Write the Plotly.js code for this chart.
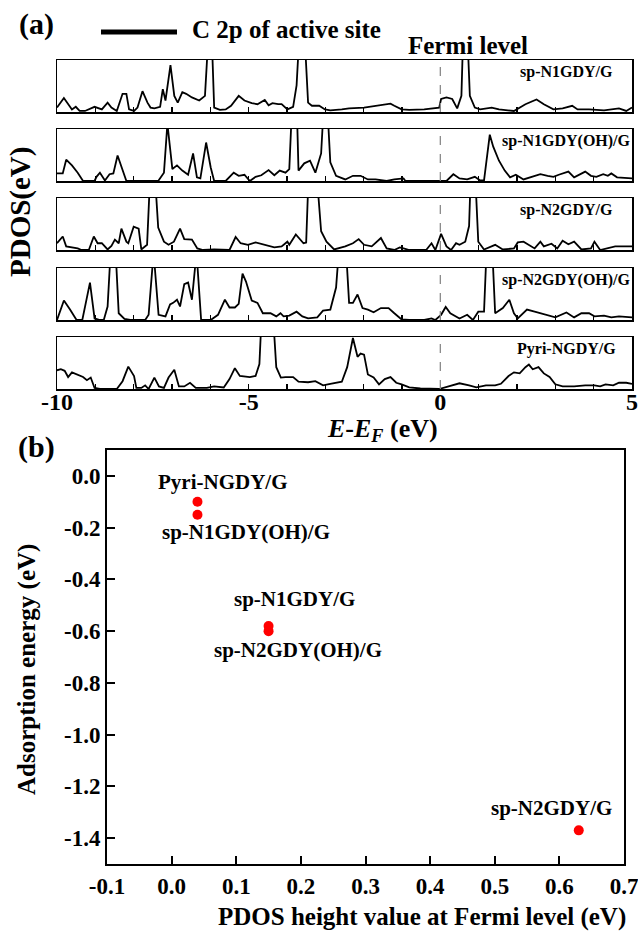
<!DOCTYPE html>
<html><head><meta charset="utf-8">
<script src="https://cdn.plot.ly/plotly-3.0.1.min.js"></script>
<style>html,body{margin:0;padding:0;background:#fff;}#chart{width:638px;height:932px;}</style>
</head><body><div id="chart"></div>
<script>
// ---------- DATA ----------
const panelNames = ['sp-N1GDY/G','sp-N1GDY(OH)/G','sp-N2GDY/G','sp-N2GDY(OH)/G','Pyri-NGDY/G'];

const e1 = [-10.00,-9.82,-9.61,-9.51,-9.41,-9.27,-9.02,-8.93,-8.83,-8.68,-8.58,-8.44,-8.29,-8.19,-8.12,-7.99,-7.90,-7.77,-7.64,-7.56,-7.46,-7.31,-7.24,-7.17,-7.04,-6.94,-6.85,-6.73,-6.63,-6.48,-6.29,-6.14,-6.04,-5.97,-5.90,-5.75,-5.60,-5.46,-5.26,-5.11,-4.92,-4.77,-4.58,-4.48,-4.38,-4.23,-4.14,-3.99,-3.84,-3.75,-3.67,-3.55,-3.45,-3.35,-3.16,-3.01,-2.87,-2.57,-2.38,-1.99,-1.60,-1.30,-1.20,-1.01,-0.81,-0.42,-0.03,0.02,0.16,0.31,0.44,0.55,0.60,0.70,0.77,0.90,1.04,1.34,1.53,1.92,2.22,2.51,2.70,2.95,3.19,3.44,3.58,3.88,4.27,4.66,4.85,5.00];
const d1 = [0.085,0.27,0.05,0.10,0.02,0.02,0.10,0.07,0.05,0.18,0.085,0.02,0.35,0.35,0.05,0.02,0.085,0.40,0.18,0.085,0.07,0.10,0.44,0.22,0.90,0.31,0.18,0.38,0.35,0.28,0.22,0.31,1.6,1.6,0.085,0.04,0.05,0.12,0.31,0.22,0.17,0.15,0.23,0.13,0.17,0.15,0.15,0.05,0.10,0.51,1.6,1.6,0.18,0.12,0.12,0.05,0.03,0.05,0.07,0.085,0.12,0.16,0.12,0.05,0.04,0.05,0.085,0.25,0.28,0.25,0.07,0.31,1.6,1.6,0.31,0.085,0.05,0.085,0.05,0.02,0.15,0.24,0.15,0.05,0.07,0.12,0.05,0.05,0.03,0.07,0.02,0.085];

const e2 = [-10.00,-9.85,-9.76,-9.61,-9.46,-9.32,-9.02,-8.97,-8.88,-8.75,-8.63,-8.53,-8.42,-8.29,-8.19,-7.95,-7.36,-7.21,-7.12,-6.99,-6.87,-6.73,-6.58,-6.45,-6.35,-6.26,-6.11,-5.99,-5.90,-5.60,-5.50,-5.39,-5.26,-5.11,-4.97,-4.82,-4.67,-4.48,-4.33,-4.19,-4.04,-3.94,-3.86,-3.75,-3.70,-3.55,-3.40,-3.26,-3.11,-3.03,-2.96,-2.87,-2.72,-2.48,-2.28,-2.08,-1.89,-1.69,-1.40,-1.20,-0.96,-0.91,-0.03,0.16,0.34,0.50,0.70,0.90,1.04,1.14,1.29,1.38,1.53,1.68,1.82,1.97,2.17,2.36,2.61,2.80,2.95,3.09,3.34,3.49,3.63,3.78,3.93,4.07,4.25,4.37,4.46,4.61,5.00];
const d2 = [0.145,0.145,0.41,0.30,0.16,0,0,0.08,0.16,0.01,0.13,0.145,0.49,0.20,0,0,0,0.16,1.1,0.23,0.30,0.20,0.12,0.53,0.07,0.05,0.74,0.26,0,0,0.08,0.16,0.10,0.12,0,0.08,0.11,0.21,0.11,0.20,0.16,0.23,1.6,1.6,0.20,0.34,0.39,0.16,0.53,1.6,1.6,0.36,0.10,0.03,0.10,0.10,0.03,0.03,0,0.03,0.05,0,0,0,0.13,0.05,0.03,0.08,0.01,0.01,0.89,0.66,0.39,0.20,0.07,0.12,0.03,0.07,0.13,0.10,0.08,0.12,0.18,0.07,0.13,0.18,0.10,0.08,0.13,0.10,0.145,0.07,0.05];

const e3 = [-10.00,-9.85,-9.76,-9.61,-9.46,-9.36,-9.17,-9.04,-8.94,-8.83,-8.68,-8.58,-8.49,-8.39,-8.32,-8.19,-8.14,-8.00,-7.87,-7.80,-7.65,-7.56,-7.46,-7.36,-7.21,-7.09,-6.95,-6.79,-6.68,-6.48,-6.34,-6.19,-5.90,-5.50,-5.34,-5.21,-5.02,-4.82,-4.63,-4.48,-4.33,-4.14,-3.99,-3.94,-3.77,-3.57,-3.50,-3.43,-3.24,-3.11,-2.97,-2.77,-2.48,-2.28,-2.13,-1.99,-1.79,-1.55,-1.40,-1.20,-1.06,-0.96,-0.81,-0.37,-0.23,-0.13,0.02,0.16,0.28,0.41,0.50,0.65,0.75,0.80,0.90,0.99,1.14,1.43,1.63,1.92,2.02,2.17,2.31,2.46,2.61,2.70,2.90,3.05,3.19,3.34,3.49,3.68,3.93,4.02,4.17,4.37,4.56,5.00];
const d3 = [0.13,0.26,0.07,0.05,0.03,0,0,0.26,0.13,0.13,0.01,0.08,0.20,0.13,0.41,0.16,0.13,0.45,0.41,0.01,0.10,1.6,1.6,0.43,0.16,0.10,0.16,0.41,0.21,0.20,0.03,0,0.01,0,0.25,0.13,0.10,0.145,0.11,0.07,0.05,0.07,0.16,0.10,0.30,0.13,0.145,1.6,1.6,0.36,0.16,0.01,0.07,0.13,0.21,0.10,0.07,0.23,0.03,0,0.05,0.03,0,0,0.13,0,0.31,0.07,0,0.13,0.10,0.16,0.46,1.6,1.6,0.16,0.01,0.10,0.01,0.03,0.145,0.16,0.10,0.03,0.16,0.07,0.12,0.03,0.18,0.11,0.16,0.01,0.03,0.16,0,0.03,0.07,0.07];

const e4 = [-10.00,-9.82,-9.66,-9.49,-9.34,-9.14,-9.02,-8.88,-8.78,-8.68,-8.58,-8.49,-8.39,-8.24,-8.09,-7.70,-7.61,-7.48,-7.35,-7.17,-7.05,-6.97,-6.87,-6.79,-6.68,-6.58,-6.48,-6.36,-6.24,-5.99,-5.80,-5.62,-5.50,-5.36,-5.26,-5.16,-5.07,-4.92,-4.77,-4.63,-4.43,-4.28,-4.17,-4.09,-3.94,-3.75,-3.60,-3.45,-3.21,-3.06,-2.87,-2.72,-2.62,-2.48,-2.38,-2.28,-2.16,-2.03,-1.89,-1.74,-1.55,-1.35,-1.20,-1.01,-0.81,-0.42,-0.23,-0.13,0.02,0.14,0.26,0.50,0.70,0.85,0.99,1.14,1.22,1.34,1.43,1.63,1.80,1.92,2.02,2.26,2.46,2.61,2.80,3.00,3.29,3.49,3.68,3.88,4.02,4.27,4.46,4.66,5.00];
const d4 = [0,0.375,0.20,0,0,0.72,0.03,0,0,0.26,1.6,1.6,0.13,0.02,0,0,0.10,1.3,0.10,0.07,0.30,0.33,0.39,0.26,0.69,0.72,0.39,1.3,0,0,0.10,0.39,0.24,0.24,0.31,0.89,0.74,0.375,0.33,0.13,0.13,0.07,0.13,0.07,0.085,0.16,0.07,0.03,0.05,0.18,0.20,0.625,1.6,1.6,0.33,0.33,0.49,0.23,0.20,0.15,0.23,0.23,0.13,0.01,0,0,0.03,0,0.10,0.25,0.13,0.03,0.10,0,0.16,0.16,1.6,1.6,0.13,0.23,0.39,0.13,0.03,0.20,0.16,0.13,0.10,0.05,0.145,0.05,0.13,0.13,0.07,0.085,0.05,0.07,0.05];

const e5 = [-10.00,-9.90,-9.80,-9.71,-9.61,-9.46,-9.32,-9.22,-9.12,-9.02,-8.88,-8.44,-8.29,-8.14,-7.99,-7.93,-7.80,-7.70,-7.61,-7.46,-7.34,-7.21,-7.09,-6.94,-6.82,-6.68,-6.53,-6.38,-6.09,-5.90,-5.65,-5.50,-5.36,-5.23,-5.11,-4.97,-4.82,-4.72,-4.65,-4.38,-4.28,-4.16,-4.04,-3.84,-3.70,-3.45,-3.26,-3.06,-2.87,-2.57,-2.43,-2.28,-2.16,-2.08,-1.99,-1.89,-1.74,-1.60,-1.45,-1.30,-1.15,-1.01,-0.81,-0.52,-0.03,0.21,0.50,0.75,0.94,1.19,1.43,1.58,1.78,1.92,2.07,2.22,2.31,2.41,2.56,2.70,2.85,3.00,3.19,3.49,3.78,4.02,4.17,4.31,4.51,4.66,4.85,5.00];
const d5 = [0.36,0.38,0.35,0.23,0.32,0.28,0.23,0.17,0.22,0.02,0,0,0.15,0.43,0.25,0.02,0.02,0.07,0,0.22,0.05,0.02,0.22,0.37,0.05,0.05,0.12,0.02,0.02,0.05,0.03,0.19,0.40,0.25,0.24,0.23,0.25,0.48,1.6,1.6,0.42,0.22,0.23,0.23,0.14,0.13,0.15,0.07,0.10,0.14,0.42,0.98,0.62,0.68,0.66,0.28,0.22,0.09,0.19,0.23,0.12,0.09,0.03,0.01,0,0.05,0.11,0.07,0.03,0.07,0.07,0.10,0.25,0.32,0.30,0.42,0.47,0.38,0.42,0.30,0.23,0.09,0.05,0.05,0.07,0.07,0.05,0.09,0.07,0.12,0.12,0.10];

const energyLabelVals = [-10,-5,0,5];
const energyLabelText = ['-10','-5','0','5'];
const energyMinorVals = [-9,-8,-7,-6,-4,-3,-2,-1,1,2,3,4];

const structNames = ['Pyri-NGDY/G','sp-N1GDY(OH)/G','sp-N1GDY/G','sp-N2GDY(OH)/G','sp-N2GDY/G'];
const pdosAtFermi = [0.04,0.04,0.15,0.15,0.63];
const adsEnergy = [-0.10,-0.15,-0.58,-0.60,-1.37];

const hTickVals = [-0.1,0.0,0.1,0.2,0.3,0.4,0.5,0.6,0.7];
const hTickText = ['-0.1','0.0','0.1','0.2','0.3','0.4','0.5','0.6','0.7'];
const aTickVals = [0.0,-0.2,-0.4,-0.6,-0.8,-1.0,-1.2,-1.4];
const aTickText = ['0.0','-0.2','-0.4','-0.6','-0.8','-1.0','-1.2','-1.4'];

// ---------- LAYOUT ----------
const W = 638, H = 932;
const FONT = 'Liberation Serif';
const BLACK = '#000';
const panelTops = [60,129,198,268,337], panelH = 52;
const pxL = 57, pxR = 632;
const energies = [e1,e2,e3,e4,e5];
const dos = [d1,d2,d3,d4,d5];
const bold = s => '<b>' + s + '</b>';
const TICKFONT = {family: FONT, size: 23, color: BLACK, weight: 700};

const data = [];
const layout = {
  width: W, height: H,
  margin: {l:0,r:0,t:0,b:0},
  paper_bgcolor: '#fff', plot_bgcolor: '#fff',
  showlegend: false,
  font: {family: FONT, color: BLACK, size: 16},
  shapes: [], annotations: []
};
const fx = p => p / W;
const fy = p => 1 - p / H;

for (let k = 0; k < 5; k++) {
  const n = k + 1;
  const xa = n === 1 ? 'x' : 'x' + n;
  const ya = n === 1 ? 'y' : 'y' + n;
  data.push({x: energies[k], y: dos[k], xaxis: xa, yaxis: ya, mode: 'lines',
    line: {color: BLACK, width: 1.8}, hoverinfo: 'skip', showlegend: false});
  layout[n === 1 ? 'xaxis' : 'xaxis' + n] = {
    domain: [fx(pxL), fx(pxR)], range: [-10, 5], anchor: ya,
    showline: true, mirror: true, linecolor: BLACK, linewidth: 1.5,
    ticks: 'inside', ticklen: 5, tickwidth: 1.5, tickcolor: BLACK,
    tickmode: 'array', tickvals: energyLabelVals, ticktext: energyLabelText.map(bold),
    minor: {tickmode: 'array', tickvals: energyMinorVals, ticks: 'inside', ticklen: 5, tickwidth: 1.5, tickcolor: BLACK, showgrid: false},
    showticklabels: k === 4, ticklabelstandoff: -9, ticklabeloverflow: 'allow',
    tickfont: Object.assign({}, TICKFONT, {size: 24}),
    showgrid: false, zeroline: false, fixedrange: true
  };
  layout[n === 1 ? 'yaxis' : 'yaxis' + n] = {
    domain: [fy(panelTops[k] + panelH), fy(panelTops[k])], range: [0, 1], anchor: xa,
    showline: true, mirror: true, linecolor: BLACK, linewidth: 1.5,
    ticks: '', showticklabels: false, showgrid: false, zeroline: false, fixedrange: true
  };
  layout.shapes.push({type: 'line', xref: xa, yref: ya + ' domain', x0: 0, x1: 0, y0: 0, y1: 1,
    line: {color: '#8a8a8a', width: 1.3, dash: 'dash'}, layer: 'above'});
  layout.annotations.push({xref: xa + ' domain', yref: ya + ' domain', x: (566 - pxL) / (pxR - pxL), y: 0.76,
    text: bold(panelNames[k]), showarrow: false, xanchor: 'center', yanchor: 'middle',
    font: {family: FONT, size: 16, color: BLACK}});
}

// scatter (b)
data.push({x: pdosAtFermi, y: adsEnergy, text: structNames, xaxis: 'x6', yaxis: 'y6', mode: 'markers',
  marker: {color: '#ff0000', size: 10}, hoverinfo: 'text', showlegend: false});
layout.xaxis6 = {
  domain: [fx(107), fx(624)], range: [-0.1, 0.7], anchor: 'y6',
  showline: true, mirror: true, linecolor: BLACK, linewidth: 2,
  ticks: 'inside', ticklen: 8, tickwidth: 2, tickcolor: BLACK,
  tickmode: 'array', tickvals: hTickVals, ticktext: hTickText.map(bold), ticklabeloverflow: 'allow',
  tickfont: TICKFONT,
  showgrid: false, zeroline: false, fixedrange: true
};
layout.yaxis6 = {
  domain: [fy(864), fy(450)], range: [-1.5, 0.1], anchor: 'x6',
  showline: true, mirror: true, linecolor: BLACK, linewidth: 2,
  ticks: 'inside', ticklen: 8, tickwidth: 2, tickcolor: BLACK,
  tickmode: 'array', tickvals: aTickVals, ticktext: aTickText.map(bold),
  tickfont: TICKFONT,
  showgrid: false, zeroline: false, fixedrange: true
};

// point labels (pixel offsets from each marker)
const labelShift = [[25, 20], [49, -17], [26, 27], [29, -19], [-27, 22]];
for (let i = 0; i < structNames.length; i++) {
  layout.annotations.push({xref: 'x6', yref: 'y6', x: pdosAtFermi[i], y: adsEnergy[i],
    xshift: labelShift[i][0], yshift: labelShift[i][1], showarrow: false,
    text: bold(structNames[i]), font: {family: FONT, size: 21, color: BLACK}});
}

// legend line sample
layout.shapes.push({type: 'line', xref: 'paper', yref: 'paper', x0: fx(101), x1: fx(177), y0: fy(32), y1: fy(32),
  line: {color: BLACK, width: 5}});

const txt = (x, y, text, size, extra) => Object.assign({xref: 'paper', yref: 'paper', x: fx(x), y: fy(y),
  text: bold(text), showarrow: false, xanchor: 'center', yanchor: 'middle',
  font: {family: FONT, size: size, color: BLACK}}, extra || {});

layout.annotations.push(
  txt(36, 24, '(a)', 30),
  txt(36, 447, '(b)', 30),
  txt(286, 29, 'C 2p of active site', 25),
  txt(468, 45, 'Fermi level', 25),
  txt(21, 212, 'PDOS(eV)', 29, {textangle: -90}),
  txt(382, 430, '<i>E</i>-<i>E</i><sub><i>F</i></sub> (eV)', 26),
  txt(422, 917, 'PDOS height value at Fermi level (eV)', 25),
  txt(27, 670, 'Adsorption energy (eV)', 25, {textangle: -90})
);

Plotly.newPlot('chart', data, layout, {displayModeBar: false, staticPlot: true});
</script></body></html>
